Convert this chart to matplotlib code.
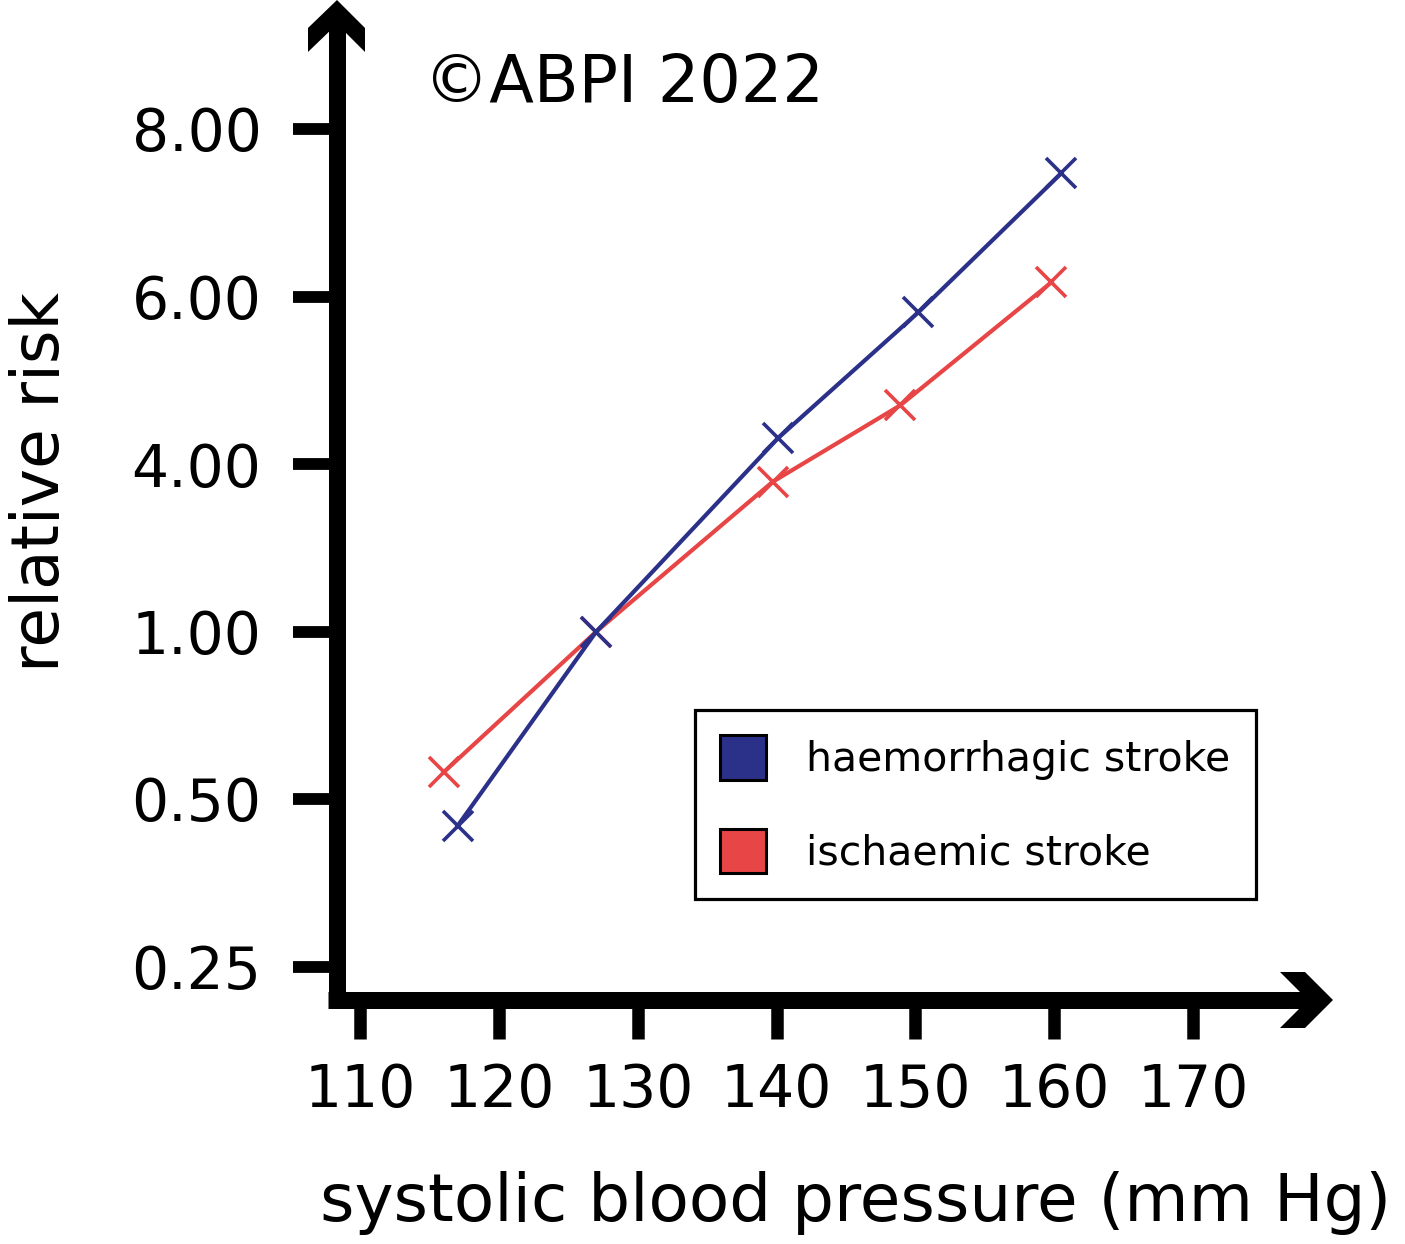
"""Relative stroke risk vs systolic blood pressure."""
import matplotlib

matplotlib.use("Agg")
import matplotlib.pyplot as plt  # noqa: E402
import numpy as np  # noqa: E402
from matplotlib.patches import Patch, Polygon  # noqa: E402

# data
risk_ticks = [0.25, 0.50, 1.00, 4.00, 6.00, 8.00]
bp_ticks = [110, 120, 130, 140, 150, 160, 170]

haem_bp = [117.0, 127.0, 140.1, 150.2, 160.5]
haem_rr = [0.46, 1.00, 4.31, 5.81, 7.47]
isch_bp = [116.0, 127.0, 139.7, 148.9, 159.8]
isch_rr = [0.58, 1.00, 3.68, 4.70, 6.17]

BLUE = "#2b3189"
RED = "#e84546"
W, H = 1405, 1244

plt.rcParams["font.family"] = ["DejaVu Sans"]

# evenly spaced, piecewise-linear axis through the tick values
tick_idx = np.arange(len(risk_ticks), dtype=float)
tv = np.array(risk_ticks)


def fwd(v):
    v = np.asarray(v, dtype=float)
    out = np.interp(v, tv, tick_idx)
    lo = v < tv[0]
    hi = v > tv[-1]
    out = np.where(lo, (v - tv[0]) / (tv[1] - tv[0]), out)
    out = np.where(hi, tick_idx[-1] + (v - tv[-1]) / (tv[-1] - tv[-2]), out)
    return out


def inv(i):
    i = np.asarray(i, dtype=float)
    out = np.interp(i, tick_idx, tv)
    out = np.where(i < 0, tv[0] + i * (tv[1] - tv[0]), out)
    out = np.where(i > tick_idx[-1], tv[-1] + (i - tick_idx[-1]) * (tv[-1] - tv[-2]), out)
    return out


def px(x, y):
    """figure pixel (top-left origin) -> figure fraction"""
    return x / W, 1 - y / H


fig = plt.figure(figsize=(W / 100, H / 100), dpi=100)
x0, y0 = 336.5, 1000.0
ax = fig.add_axes([x0 / W, 1 - y0 / H, (1333 - x0) / W, y0 / H])
ax.set_yscale("function", functions=(fwd, inv))

# px scale: 110 at 360.5, 170 at 1193
ppu = (1193 - 360.5) / 60
ax.set_xlim(110 - (360.5 - x0) / ppu, 170 + (1333 - 360.5 - 60 * ppu) / ppu)
ax.set_ylim(inv(-(y0 - 966.5) / 167.5), inv(5 + 129 / 167.5))

ax.plot(haem_bp, haem_rr, color=BLUE, lw=3.0, marker="x", ms=21, mew=2.6,
        clip_on=False, zorder=3)
ax.plot(isch_bp, isch_rr, color=RED, lw=3.0, marker="x", ms=21, mew=2.6,
        clip_on=False, zorder=2)

for s in ax.spines.values():
    s.set_visible(False)

ax.set_xticks(bp_ticks)
ax.set_xticklabels([str(t) for t in bp_ticks])
ax.set_yticks(risk_ticks)
ax.set_yticklabels([f"{t:.2f}" for t in risk_ticks])
ax.yaxis.set_minor_locator(matplotlib.ticker.NullLocator())
ax.tick_params(axis="y", direction="out", length=32, width=8.5, pad=22,
               labelsize=42)
ax.tick_params(axis="x", direction="out", length=28, width=9, pad=17,
               labelsize=42)

ax.set_xlabel("systolic blood pressure (mm Hg)", fontsize=47.5)
ax.xaxis.set_label_coords(856 / W, px(0, 1203)[1], transform=fig.transFigure)
ax.xaxis.label.set_va("center")
ax.set_ylabel("relative risk", fontsize=46.5)
ax.yaxis.set_label_coords(41 / W, px(0, 482)[1], transform=fig.transFigure)
ax.yaxis.label.set_va("center")

# thick axis lines with chevron arrowheads
lw_ax = 17 * 72 / 100
fig.lines.append(plt.Line2D(*zip(px(336.5, 10), px(336.5, 1008)), lw=lw_ax,
                            color="black", solid_capstyle="butt",
                            transform=fig.transFigure))
fig.lines.append(plt.Line2D(*zip(px(328, 1000), px(1322, 1000)), lw=lw_ax,
                            color="black", solid_capstyle="butt",
                            transform=fig.transFigure))
up = [(337, 0), (365, 28), (365, 52), (337, 24), (308, 52), (308, 28)]
right = [(1333, 1000), (1305, 972), (1280, 972), (1308, 1000), (1280, 1028), (1305, 1028)]
for pts in (up, right):
    fig.patches.append(Polygon([px(*p) for p in pts], closed=True,
                               facecolor="black", edgecolor="none",
                               transform=fig.transFigure))

fig.text(424 / W, px(0, 84)[1], "\u00a9ABPI 2022", fontsize=47,
         ha="left", va="center")

handles = [Patch(facecolor=BLUE, edgecolor="black", lw=2.2),
           Patch(facecolor=RED, edgecolor="black", lw=2.2)]
leg = ax.legend(handles, ["haemorrhagic stroke", "ischaemic stroke"],
                loc="upper left", bbox_to_anchor=px(695, 710),
                bbox_transform=fig.transFigure, borderaxespad=0,
                fontsize=29.5, frameon=True, fancybox=False, framealpha=1,
                handlelength=1.12, handleheight=1.3, handletextpad=0.98,
                labelspacing=1.18, borderpad=0.62)
leg.get_frame().set_edgecolor("black")
leg.get_frame().set_linewidth(2.3)

fig.savefig("out.png", dpi=100)
